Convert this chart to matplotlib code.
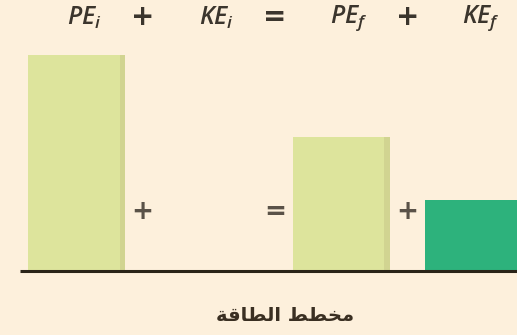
import matplotlib
matplotlib.use('Agg')
import matplotlib.pyplot as plt


# energy bar values (PE_i taken as 100)
labels = [r'$PE_{\mathrm{i}}$', r'$KE_{\mathrm{i}}$', r'$PE_{\mathrm{f}}$', r'$KE_{\mathrm{f}}$']
values = [100, 0, 62, 33]
kinds = ['PE', 'KE', 'PE', 'KE']
signs = ['+', '=', '+']
caption = 'مخطط الطاقة'

bg = '#fdf0dc'
ink = '#3b352d'
colors = {'PE': '#dde49c', 'KE': '#2db27c'}
edges = {'PE': '#c6c688', 'KE': '#1f8c5f'}

# Arabic contextual forms for the letters used (isolated, final, initial, medial)
FORMS = {
    'ا': ('\ufe8d', '\ufe8e', '\ufe8d', '\ufe8e'),
    'ة': ('\ufe93', '\ufe94', '\ufe93', '\ufe94'),
    'خ': ('\ufea5', '\ufea6', '\ufea7', '\ufea8'),
    'ط': ('\ufec1', '\ufec2', '\ufec3', '\ufec4'),
    'ق': ('\ufed5', '\ufed6', '\ufed7', '\ufed8'),
    'ل': ('\ufedd', '\ufede', '\ufedf', '\ufee0'),
    'م': ('\ufee1', '\ufee2', '\ufee3', '\ufee4'),
}
RIGHT_ONLY = {'ا', 'ة'}


# shape the arabic string and reverse it so it prints right to left
def shape_arabic(s):
    out = []
    for i, ch in enumerate(s):
        if ch not in FORMS:
            out.append(ch)
            continue
        prev = s[i - 1] if i > 0 else ''
        nxt = s[i + 1] if i + 1 < len(s) else ''
        join_prev = prev in FORMS and prev not in RIGHT_ONLY
        join_next = nxt in FORMS and ch not in RIGHT_ONLY
        iso, fin, ini, med = FORMS[ch]
        if join_prev and join_next:
            out.append(med)
        elif join_prev:
            out.append(fin)
        elif join_next:
            out.append(ini)
        else:
            out.append(iso)
    return ''.join(reversed(out))


plt.rcParams['mathtext.fontset'] = 'custom'
plt.rcParams['mathtext.it'] = 'Open Sans:italic:semibold'
plt.rcParams['mathtext.rm'] = 'Open Sans:italic:semibold'

fig = plt.figure(figsize=(5.17, 3.35), dpi=100, facecolor=bg)
ax = fig.add_axes([0, 0, 1, 1])
ax.set_facecolor(bg)

x = list(range(len(values)))
width = 0.733
for xi, v, k in zip(x, values, kinds):
    if v > 0:
        ax.bar(xi, v, width=width, color=colors[k], edgecolor='none', zorder=2)
        # darker shading along the right edge
        ax.bar(xi + width / 2 - 0.02, v, width=0.04, color=edges[k],
               edgecolor='none', alpha=0.5, zorder=2)

# baseline
ax.plot([-0.43, 3.5], [0, 0], color='#2a2418', lw=2.2, zorder=3,
        solid_capstyle='butt')

# equation at the top
for xi, lab in zip(x, labels):
    ax.text(xi + 0.06, 117, lab, ha='center', va='center', fontsize=18,
            color=ink)
for i, s in enumerate(signs):
    ax.text(i + 0.5, 117.5, s, ha='center', va='center', fontsize=20,
            color=ink, fontweight='bold')
    ax.text(i + 0.5, 27.5, s, ha='center', va='center', fontsize=19,
            color='#5a5248', fontweight='bold')

ax.text(1.58, -20.5, shape_arabic(caption), ha='center', va='center',
        fontsize=14, fontweight='bold', color='#3a2f22',
        family=['DejaVu Sans'])

ax.set_xlim(-0.578, 3.33)
ax.set_ylim(-29.6, 125.5)
ax.axis('off')

fig.savefig('out.png', dpi=100, facecolor=bg)
